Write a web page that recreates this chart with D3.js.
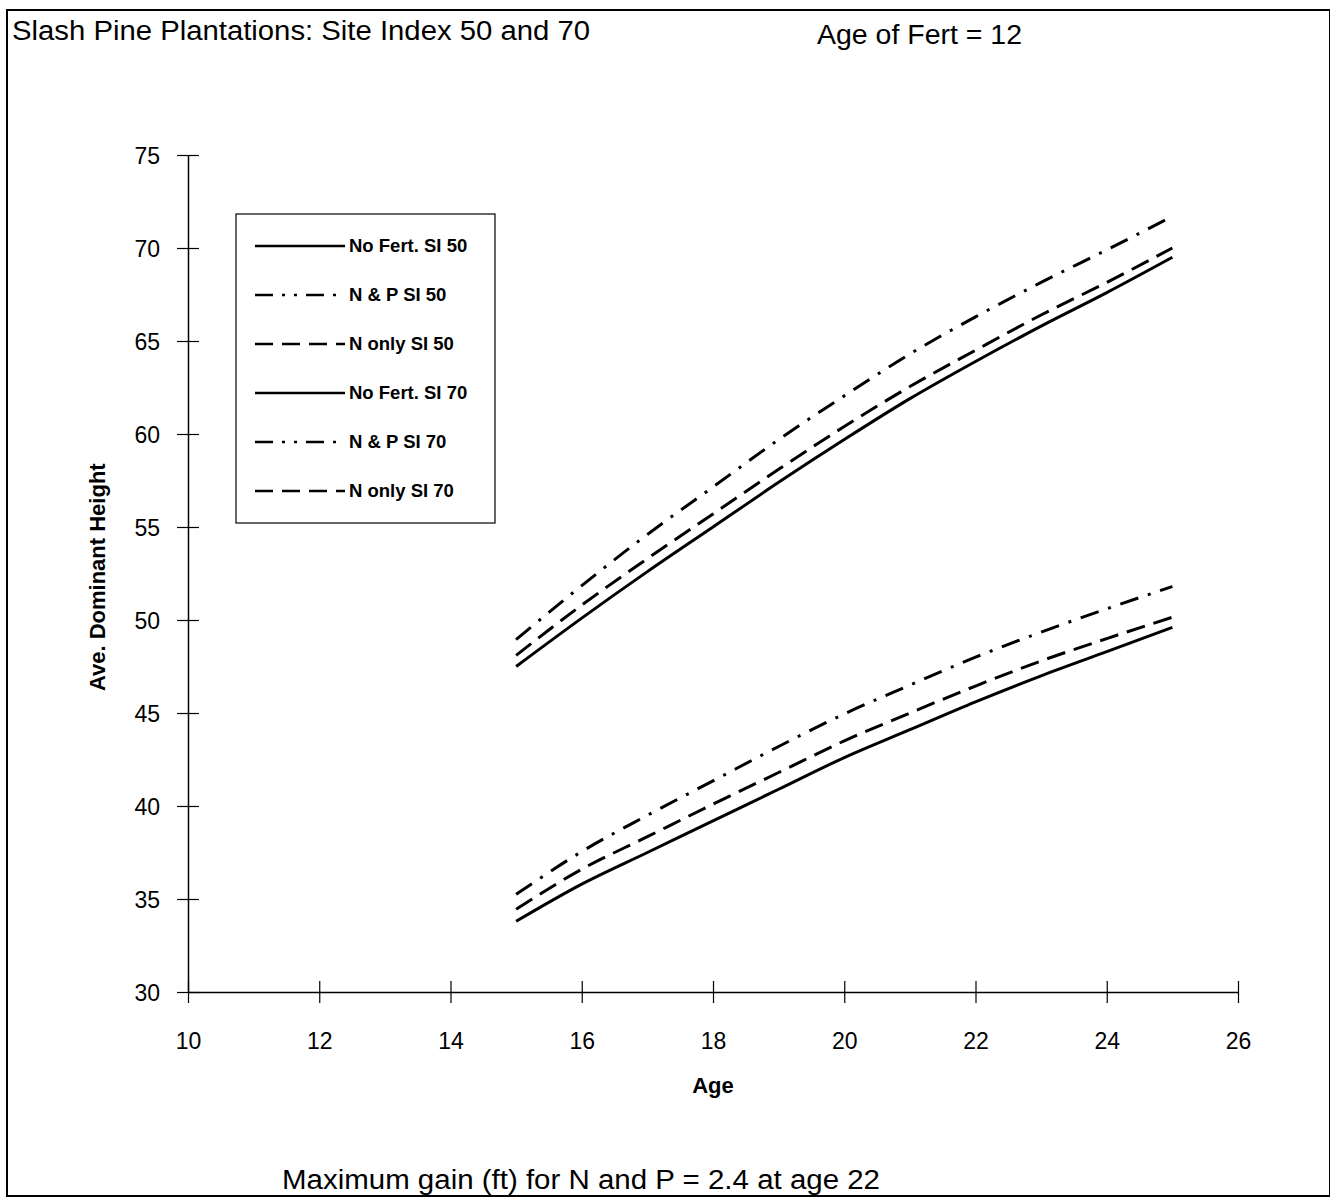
<!DOCTYPE html>
<html>
<head>
<meta charset="utf-8">
<script src="https://cdn.jsdelivr.net/npm/d3@7"></script>
<style>
  body { margin: 0; background: #fff; }
  svg text { font-family: "Liberation Sans", Arial, sans-serif; fill: #000; }
</style>
</head>
<body>
<div id="chart"></div>
<script>
// Data (age in years, height in ft)
const ages = [15, 16, 17, 18, 19, 20, 21, 22, 23, 24, 25];

const noFert50 = [33.8, 35.8, 37.5, 39.2, 40.9, 42.6, 44.1, 45.6, 47.0, 48.3, 49.6];
const np50     = [35.25, 37.55, 39.5, 41.35, 43.2, 44.95, 46.5, 48.0, 49.35, 50.6, 51.8];
const nOnly50  = [34.45, 36.6, 38.35, 40.1, 41.8, 43.5, 45.0, 46.45, 47.8, 49.0, 50.15];
const noFert70 = [47.5, 50.1, 52.6, 55.0, 57.4, 59.7, 61.9, 63.9, 65.8, 67.6, 69.5];
const np70     = [48.95, 51.85, 54.6, 57.15, 59.7, 62.05, 64.3, 66.3, 68.15, 69.9, 71.7];
const nOnly70  = [48.1, 50.8, 53.3, 55.7, 58.1, 60.4, 62.55, 64.5, 66.4, 68.15, 70.0];

const seriesNames = ["No Fert. SI 50", "N & P SI 50", "N only SI 50",
                     "No Fert. SI 70", "N & P SI 70", "N only SI 70"];
const seriesValues = [noFert50, np50, nOnly50, noFert70, np70, nOnly70];
const seriesKinds = ["solid", "dashdot", "dash", "solid", "dashdot", "dash"];

const xTicks = [10, 12, 14, 16, 18, 20, 22, 24, 26];
const yTicks = [30, 35, 40, 45, 50, 55, 60, 65, 70, 75];

const W = 1330, H = 1199;
const margin = {top: 155, right: 92, bottom: 207, left: 188};

const dashes = {solid: null, dash: "19,9", dashdot: "19,10,3,10"};
const legendDashes = {solid: null, dash: "18,9", dashdot: "18,9,3,9,3,9"};

const svg = d3.select("#chart").append("svg")
    .attr("width", W)
    .attr("height", H);

// outer frame
svg.append("rect")
    .attr("x", 7).attr("y", 10)
    .attr("width", W - 7).attr("height", H - 13)
    .attr("fill", "none")
    .attr("stroke", "#000")
    .attr("stroke-width", 2);

svg.append("text")
    .attr("x", 12).attr("y", 40)
    .attr("font-size", 27)
    .attr("textLength", 578)
    .attr("lengthAdjust", "spacingAndGlyphs")
    .text("Slash Pine Plantations: Site Index 50 and 70");

svg.append("text")
    .attr("x", 817).attr("y", 44)
    .attr("font-size", 27)
    .attr("textLength", 205)
    .attr("lengthAdjust", "spacingAndGlyphs")
    .text("Age of Fert = 12");

svg.append("text")
    .attr("x", 282).attr("y", 1189)
    .attr("font-size", 27)
    .attr("textLength", 598)
    .attr("lengthAdjust", "spacingAndGlyphs")
    .text("Maximum gain (ft) for N and P = 2.4 at age 22");

const g = svg.append("g")
    .attr("transform", "translate(" + margin.left + "," + margin.top + ")");

const width = W - margin.left - margin.right;
const height = H - margin.top - margin.bottom;

// Scales
const x = d3.scaleLinear().domain([10, 26]).range([0, width]);
const y = d3.scaleLinear().domain([30, 75]).range([height, 0]);

// Axes (ticks cross the axis line)
const xAxis = d3.axisBottom(x).tickValues(xTicks).tickSizeInner(11).tickSizeOuter(0).tickPadding(30);
const yAxis = d3.axisLeft(y).tickValues(yTicks).tickSizeInner(11).tickSizeOuter(0).tickPadding(17);

const xAxisGroup = g.append("g")
    .attr("class", "x-axis axis")
    .attr("transform", "translate(0," + height + ")")
    .call(xAxis);
xAxisGroup.selectAll(".tick line").attr("y1", -11);

const yAxisGroup = g.append("g")
    .attr("class", "y-axis axis")
    .call(yAxis);
yAxisGroup.selectAll(".tick line").attr("x1", 11);

g.selectAll(".axis path").attr("stroke", "#000").attr("stroke-width", 1.5);
g.selectAll(".axis line").attr("stroke", "#000").attr("stroke-width", 1.2);
g.selectAll(".axis text")
    .attr("font-size", 23)
    .attr("font-family", "'Liberation Sans', Arial, sans-serif")
    .attr("fill", "#000");
xAxisGroup.selectAll("text").attr("dy", "0.71em");
yAxisGroup.selectAll("text").attr("dy", "0.35em");

// axis titles
g.append("text")
    .attr("x", x(18))
    .attr("y", height + 101)
    .attr("text-anchor", "middle")
    .attr("font-size", 22)
    .attr("font-weight", "bold")
    .text("Age");

g.append("text")
    .attr("transform", "translate(" + (-83) + "," + (y(52.3)) + ") rotate(-90)")
    .attr("text-anchor", "middle")
    .attr("font-size", 22)
    .attr("font-weight", "bold")
    .text("Ave. Dominant Height");

// Lines
const line = d3.line()
    .x((d, i) => x(ages[i]))
    .y(d => y(d))
    .curve(d3.curveMonotoneX);

g.selectAll(".line")
    .data(seriesValues)
    .enter()
    .append("path")
    .attr("class", "line")
    .attr("d", d => line(d))
    .attr("fill", "none")
    .attr("stroke", "#000")
    .attr("stroke-width", 3)
    .attr("stroke-dasharray", (d, i) => dashes[seriesKinds[i]]);

// Legend
const legend = svg.append("g").attr("transform", "translate(236,214)");
legend.append("rect")
    .attr("width", 259).attr("height", 309)
    .attr("fill", "#fff")
    .attr("stroke", "#000")
    .attr("stroke-width", 1.2);

const items = legend.selectAll(".item")
    .data(seriesNames)
    .enter()
    .append("g")
    .attr("class", "item")
    .attr("transform", (d, i) => "translate(0," + (32 + i * 49) + ")");

items.append("line")
    .attr("x1", 19).attr("x2", 109)
    .attr("stroke", "#000")
    .attr("stroke-width", 2.5)
    .attr("stroke-dasharray", (d, i) => legendDashes[seriesKinds[i]]);

items.append("text")
    .attr("x", 113)
    .attr("dy", "0.35em")
    .attr("font-size", 18.5)
    .attr("font-weight", "bold")
    .text(d => d);
</script>
</body>
</html>
